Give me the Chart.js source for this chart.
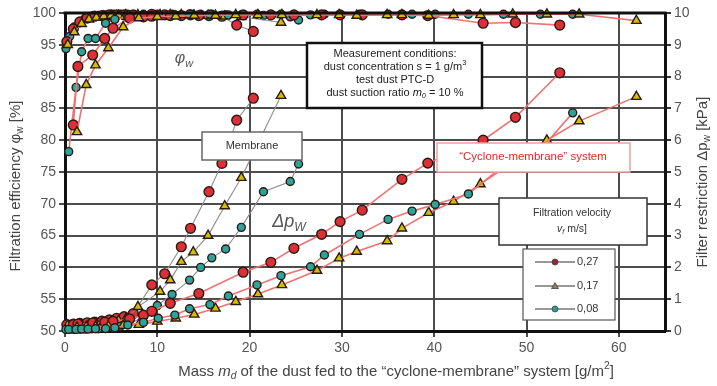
<!DOCTYPE html>
<html><head><meta charset="utf-8">
<script src="https://cdn.jsdelivr.net/npm/chart.js@4.4.1/dist/chart.umd.min.js"></script>
<style>html,body{margin:0;padding:0;background:#fff}#wrap{width:717px;height:386px}</style>
</head><body><div id="wrap"><canvas id="c" width="717" height="386"></canvas></div>
<script>
// ---- data (x = dust mass fed [g/m2], eff = filtration efficiency [%], dp = filter restriction [kPa]) ----
const xTicks = [0,10,20,30,40,50,60];
const velocityLabels = ['0,27','0,17','0,08'];

// Membrane alone, vf = 0.27
const xMem27   = [0.2,0.9,1.6,2.4,3.2,4.0,4.8,5.6,6.4,7.4,9.4,10.8,12.6,13.6,15.6,17.0,18.6,20.4];
const effMem27 = [95.5,97.5,98.6,99.2,99.5,99.6,99.7,99.7,99.7,99.7,99.8,99.7,99.6,99.7,99.6,99.5,98.1,97.1];
const dpMem27  = [0.2,0.22,0.24,0.26,0.28,0.31,0.35,0.4,0.45,0.55,1.45,1.8,2.65,3.23,4.38,5.27,6.63,7.32];
// Membrane alone, vf = 0.17
const xMem17   = [0.3,1.0,1.8,2.6,3.4,4.2,5.0,5.8,6.6,7.9,10.3,11.4,12.6,13.9,15.5,17.3,19.1,23.4];
const effMem17 = [95.0,97.0,98.3,99.0,99.3,99.5,99.6,99.6,99.7,99.7,99.7,99.7,99.7,99.6,99.6,99.5,99.4,98.5];
const dpMem17  = [0.18,0.19,0.2,0.22,0.24,0.26,0.29,0.32,0.38,0.76,1.24,1.6,2.18,2.48,3.0,3.93,4.82,7.4];
// Membrane alone, vf = 0.08
const xMem08   = [0.1,0.5,1.0,1.6,2.2,2.9,3.6,4.4,5.2,6.0,6.8,8.5,10.0,11.6,13.5,14.7,15.9,17.4,19.1,21.5,24.4,25.3];
const effMem08 = [94.4,96.3,97.8,98.6,99.2,99.5,99.6,99.7,99.8,99.8,99.8,99.8,99.8,99.8,99.8,99.8,99.8,99.7,99.7,99.6,99.4,98.9];
const dpMem08  = [0.05,0.05,0.05,0.06,0.06,0.07,0.07,0.08,0.1,0.15,0.2,0.45,0.8,1.15,1.6,2.0,2.3,2.58,3.26,4.38,4.7,5.25];
// Cyclone-membrane system, vf = 0.27
const xCyc27   = [0.9,1.4,3.0,4.3,5.2,7.0,8.5,9.4,11.4,14.5,19.3,22.3,24.8,27.8,29.8,32.2,36.5,39.3,45.3,48.8,53.6];
const effCyc27 = [82.4,91.6,93.4,96.0,97.6,99.2,99.4,99.5,99.6,99.6,99.7,99.7,99.7,99.7,99.7,99.7,99.7,99.6,98.4,98.5,98.1];
const dpCyc27  = [0.2,0.22,0.25,0.28,0.3,0.38,0.5,0.62,0.87,1.18,1.85,2.16,2.6,3.04,3.44,3.8,4.77,5.28,6.0,6.72,8.12];
// Cyclone-membrane system, vf = 0.17
const xCyc17   = [1.3,2.3,3.3,4.7,6.3,8.0,10.0,12.0,14.0,16.3,18.5,20.9,23.5,27.3,29.7,31.6,34.9,36.5,39.4,42.1,45.0,48.5,52.2,55.7,61.9];
const effCyc17 = [81.3,88.7,91.8,94.5,97.8,99.2,99.4,99.5,99.6,99.6,99.7,99.7,99.7,99.7,99.7,99.6,99.7,99.7,99.6,99.7,99.7,99.8,99.8,99.8,98.8];
const dpCyc17  = [0.12,0.13,0.14,0.15,0.17,0.2,0.3,0.4,0.52,0.71,0.92,1.16,1.45,1.9,2.29,2.5,2.83,3.23,3.72,4.07,4.62,5.3,6.0,6.6,7.37];
// Cyclone-membrane system, vf = 0.08
const xCyc08   = [0.4,1.2,1.8,2.5,3.3,4.4,5.4,6.8,8.5,10.1,11.9,13.5,15.7,17.7,20.8,23.4,26.6,28.1,31.9,35.0,37.6,40.1,43.7,47.5,51.5,55.0];
const effCyc08 = [78.2,88.3,93.9,96.0,96.0,98.4,99.0,99.4,99.6,99.7,99.7,99.8,99.8,99.7,99.8,99.8,99.7,99.8,99.8,99.8,99.8,99.8,99.8,99.8,99.8,99.8];
const dpCyc08  = [0.05,0.05,0.06,0.06,0.07,0.08,0.1,0.19,0.27,0.4,0.5,0.7,0.83,1.1,1.45,1.74,2.02,2.39,3.04,3.51,3.77,3.98,4.31,5.2,5.7,6.86];

// ---- styles ----
const MARK = {
  '27': {style:'circle',   fill:'#dc3039', r:4.9},
  '17': {style:'triangle', fill:'#d4bc00', r:5.4},
  '08': {style:'circle',   fill:'#2ea39c', r:4.0}
};
const MEM_LINE = '#8c8c8c', CYC_LINE = '#f07272';
function pts(xs, ys){ return xs.map((x,i)=>({x:x, y:ys[i]})); }
function ds(xs, ys, v, axis, line){
  const m = MARK[v];
  return {data:pts(xs,ys), yAxisID:axis, showLine:true, borderColor:line, borderWidth: line===CYC_LINE?1.6:1.1,
    pointStyle:m.style, pointRadius:m.r, pointBackgroundColor:m.fill, pointBorderColor:'#2a1a12',
    pointBorderWidth:1.4, clip:false, tension:0};
}
const datasets = [
  ds(xCyc08, dpCyc08, '08','y1',CYC_LINE), ds(xCyc17, dpCyc17, '17','y1',CYC_LINE), ds(xCyc27, dpCyc27, '27','y1',CYC_LINE),
  ds(xMem08, dpMem08, '08','y1',MEM_LINE), ds(xMem17, dpMem17, '17','y1',MEM_LINE), ds(xMem27, dpMem27, '27','y1',MEM_LINE),
  ds(xCyc17, effCyc17,'17','y',CYC_LINE), ds(xCyc27, effCyc27,'27','y',CYC_LINE), ds(xCyc08, effCyc08,'08','y',CYC_LINE),
  ds(xMem17, effMem17,'17','y',MEM_LINE), ds(xMem27, effMem27,'27','y',MEM_LINE), ds(xMem08, effMem08,'08','y',MEM_LINE)
];

// ---- rich text helper ----
const FF = '"Liberation Sans", Arial, sans-serif';
function rich(ctx, parts, x, y, align, size, color){
  let w = 0;
  const segs = parts.map(p=>{
    const s = p.sub||p.sup ? size*0.68 : size;
    const f = (p.it?'italic ':'') + s + 'px ' + FF;
    ctx.font = f; const mw = ctx.measureText(p.t).width; w += mw;
    return {t:p.t, f:f, w:mw, dy: p.sub? size*0.3 : (p.sup? -size*0.38 : 0)};
  });
  let cx = align==='center' ? x - w/2 : (align==='right'? x - w : x);
  ctx.fillStyle = color; ctx.textAlign='left'; ctx.textBaseline='middle';
  segs.forEach(s=>{ ctx.font=s.f; ctx.fillText(s.t, cx, y + s.dy); cx += s.w; });
}
function box(ctx, x1,y1,x2,y2, stroke, lw){
  ctx.fillStyle='#fff'; ctx.fillRect(x1,y1,x2-x1,y2-y1);
  ctx.strokeStyle=stroke; ctx.lineWidth=lw; ctx.strokeRect(x1,y1,x2-x1,y2-y1);
}

const overlay = {
  id:'overlay',
  afterDraw(chart){
    const ctx = chart.ctx, a = chart.chartArea;
    ctx.save();
    // top frame
    ctx.strokeStyle='#111'; ctx.lineWidth=3;
    ctx.beginPath(); ctx.moveTo(a.left-1.5, a.top); ctx.lineTo(a.right+1.5, a.top); ctx.stroke();
    // axis titles
    ctx.save(); ctx.translate(16, 186); ctx.rotate(-Math.PI/2);
    rich(ctx,[{t:'Filtration efficiency φ'},{t:'w',sub:1},{t:' [%]'}],0,0,'center',15,'#444');
    ctx.restore();
    ctx.save(); ctx.translate(703, 182); ctx.rotate(-Math.PI/2);
    rich(ctx,[{t:'Filter restriction Δp'},{t:'w',sub:1},{t:' [kPa]'}],0,0,'center',15,'#444');
    ctx.restore();
    rich(ctx,[{t:'Mass '},{t:'m',it:1},{t:'d',sub:1,it:1},{t:' of the dust fed to the “cyclone-membrane” system [g/m'},{t:'2',sup:1},{t:']'}],396,372,'center',15,'#444');
    // curve labels
    rich(ctx,[{t:'φ',it:1},{t:'w',sub:1,it:1}],184,59,'center',16,'#555');
    rich(ctx,[{t:'Δp',it:1},{t:'W',sub:1,it:1}],289,222,'center',18,'#555');
    // measurement box
    box(ctx,307,43,482,108,'#111',2.5);
    const mc = 395, fs=11;
    rich(ctx,[{t:'Measurement conditions:'}],mc,54,'center',fs,'#222');
    rich(ctx,[{t:'dust concentration s = 1 g/m'},{t:'3',sup:1}],mc,67,'center',fs,'#222');
    rich(ctx,[{t:'test dust PTC-D'}],mc,80,'center',fs,'#222');
    rich(ctx,[{t:'dust suction ratio '},{t:'m',it:1},{t:'0',sub:1,it:1},{t:' = 10 %'}],mc,93,'center',fs,'#222');
    // membrane box
    box(ctx,202,132,302,160,'#666',1.5);
    rich(ctx,[{t:'Membrane'}],252,146,'center',11,'#333');
    // cyclone box
    box(ctx,437,143,630,172,'#f4a0a0',1.5);
    rich(ctx,[{t:'“Cyclone-membrane” system'}],533,157,'center',11.5,'#e02828');
    // filtration velocity box
    box(ctx,499,198,647,245,'#333',1.5);
    rich(ctx,[{t:'Filtration velocity'}],572,213,'center',10.5,'#333');
    rich(ctx,[{t:'v',it:1},{t:'f',sub:1,it:1},{t:' m/s]'}],572,229,'center',10.5,'#333');
    // legend
    box(ctx,523,249,615,320,'#555',1.2);
    const ly=[262,286,309], keys=['27','17','08'], lcol=['#9c2236','#8a8050','#2a9a94'];
    keys.forEach((k,i)=>{
      ctx.strokeStyle='#777'; ctx.lineWidth=1.3;
      ctx.beginPath(); ctx.moveTo(535,ly[i]); ctx.lineTo(575,ly[i]); ctx.stroke();
      ctx.fillStyle=lcol[i]; ctx.strokeStyle='#444'; ctx.lineWidth=0.8;
      ctx.beginPath();
      if(MARK[k].style==='triangle'){ ctx.moveTo(555,ly[i]-3.5); ctx.lineTo(558.5,ly[i]+2.5); ctx.lineTo(551.5,ly[i]+2.5); ctx.closePath(); }
      else ctx.arc(555,ly[i],3,0,Math.PI*2);
      ctx.fill(); ctx.stroke();
      rich(ctx,[{t:velocityLabels[i]}],577,ly[i],'left',11,'#333');
    });
    ctx.restore();
  }
};

new Chart(document.getElementById('c'), {
  type:'scatter',
  data:{datasets:datasets},
  options:{
    responsive:false, animation:false, devicePixelRatio:1,
    layout:{padding:{top:13,left:0,right:0,bottom:0}},
    plugins:{legend:{display:false}, tooltip:{enabled:false}},
    scales:{
      x:{type:'linear', min:0, max:65,
        afterBuildTicks(s){ s.ticks = xTicks.map(v=>({value:v})); },
        afterFit(s){ s.height = 55; },
        ticks:{font:{size:14,family:FF}, color:'#555', padding:3},
        grid:{color:'#4c4c4c', lineWidth:2, tickLength:6},
        border:{color:'#111', width:3}},
      y:{position:'left', min:50, max:100,
        ticks:{stepSize:5, font:{size:14,family:FF}, color:'#555', padding:3},
        afterFit(s){ s.width = 65; },
        grid:{color:'#4c4c4c', lineWidth:2, tickLength:6},
        border:{color:'#111', width:3}},
      y1:{position:'right', min:0, max:10,
        ticks:{stepSize:1, font:{size:14,family:FF}, color:'#555', padding:3},
        afterFit(s){ s.width = 52; },
        grid:{drawOnChartArea:false, color:'#333', lineWidth:2, tickLength:6},
        border:{color:'#111', width:3}}
    }
  },
  plugins:[overlay]
});
</script></body></html>
